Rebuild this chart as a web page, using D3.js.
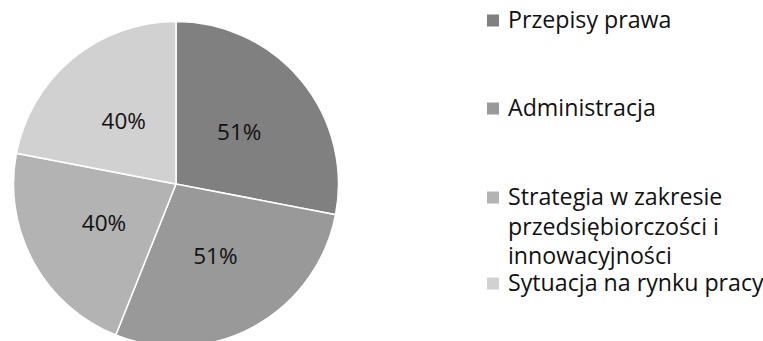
<!DOCTYPE html>
<html>
<head>
<meta charset="utf-8">
<script src="https://cdn.jsdelivr.net/npm/d3@7"></script>
<style>
  html, body { margin: 0; padding: 0; background: #fff; }
  svg { display: block; }
  text { font-family: "Open Sans", "Noto Sans", sans-serif; fill: #111; }
</style>
</head>
<body>
<svg id="chart" width="763" height="341"></svg>
<script>
const categories = ["Przepisy prawa", "Administracja", "Strategia w zakresie przedsiębiorczości i innowacyjności", "Sytuacja na rynku pracy"];
const legendLines = [["Przepisy prawa"], ["Administracja"], ["Strategia w zakresie", "przedsiębiorczości i", "innowacyjności"], ["Sytuacja na rynku pracy"]];
const values = [51, 51, 40, 40];
const labels = ["51%", "51%", "40%", "40%"];
const colors = ["#808080", "#999999", "#b3b3b3", "#d1d1d1"];

const svg = d3.select("#chart");
const cx = 176, cy = 184, r = 162.5;

const data = categories.map((c, i) => ({ cat: c, value: values[i], label: labels[i], color: colors[i], lines: legendLines[i] }));

const pie = d3.pie().value(d => d.value).sort(null);
const arcs = pie(data);
const arc = d3.arc().innerRadius(0).outerRadius(r);
const labelArc = d3.arc().innerRadius(r * 0.505).outerRadius(r * 0.505);

const g = svg.append("g").attr("transform", `translate(${cx},${cy})`);
g.selectAll("path").data(arcs).join("path")
  .attr("d", arc)
  .attr("fill", d => d.data.color)
  .attr("stroke", "#fff")
  .attr("stroke-width", 1.5);

g.selectAll("text.lbl").data(arcs).join("text")
  .attr("class", "lbl")
  .attr("transform", d => `translate(${labelArc.centroid(d)})`)
  .attr("text-anchor", "middle")
  .attr("dy", "0.36em")
  .attr("font-size", 22.5)
  .text(d => d.data.label);

// Legend
const baselines = [28, 116, 205, 291];
const lineH = 29.5;
const leg = svg.append("g");
data.forEach((d, i) => {
  const y = baselines[i];
  leg.append("rect")
    .attr("x", 487).attr("y", y - 13.5)
    .attr("width", 12).attr("height", 12)
    .attr("fill", d.color);
  const t = leg.append("text")
    .attr("x", 508).attr("y", y)
    .attr("font-size", 23.2);
  d.lines.forEach((ln, j) => {
    t.append("tspan").attr("x", 508).attr("y", y + j * lineH).text(ln);
  });
});
</script>
</body>
</html>
